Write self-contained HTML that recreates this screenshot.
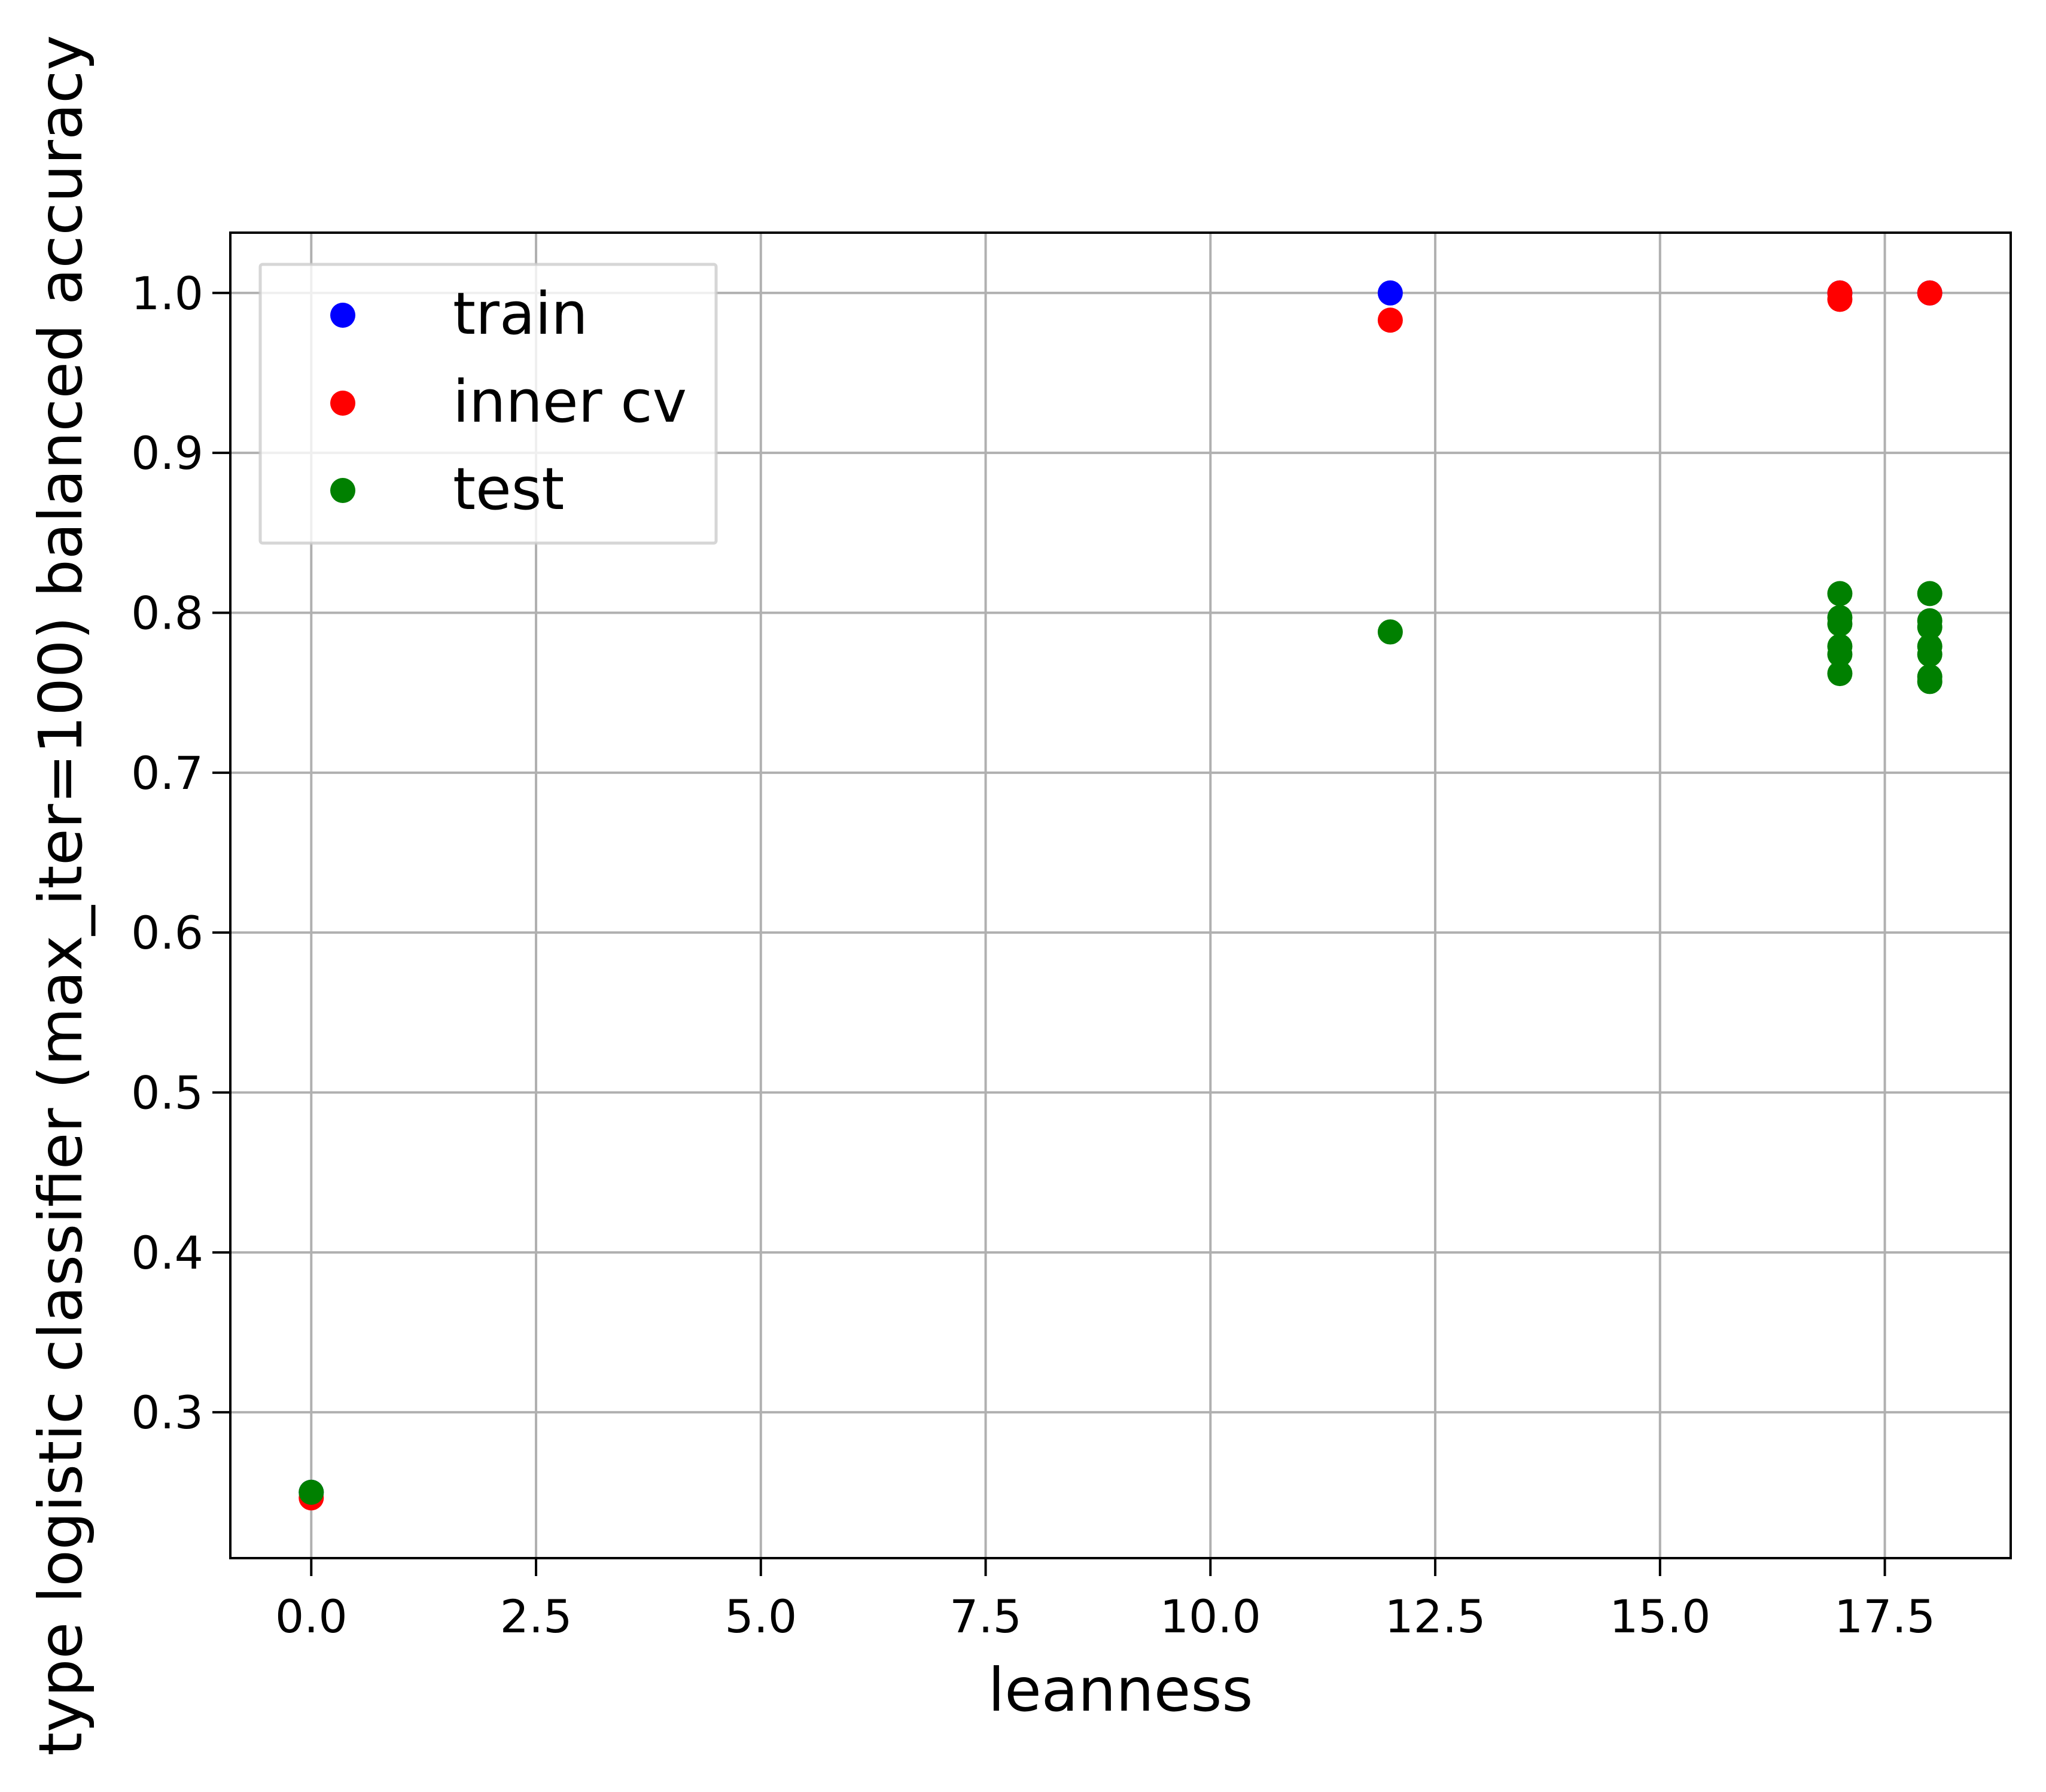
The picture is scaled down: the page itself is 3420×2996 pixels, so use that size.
<!DOCTYPE html>
<html><head><meta charset="utf-8"><style>
html,body{margin:0;padding:0;background:#fff}
svg{display:block}
text{font-family:"DejaVu Sans","Liberation Sans",sans-serif;fill:#000}
</style></head><body>
<svg id="chart" width="3420" height="2996" viewBox="0 0 3420 2996" xmlns="http://www.w3.org/2000/svg">
<rect width="3420" height="2996" fill="#fff"/>
<g id="grid"></g>
<g id="points"></g>
<rect x="385" y="389" width="2976" height="2216" fill="none" stroke="#000" stroke-width="4"/>
<g id="ticks"></g>
<text x="1873" y="2860" font-size="100" text-anchor="middle">leanness</text>
<text transform="translate(136,1497) rotate(-90)" font-size="100" text-anchor="middle">type logistic classifier (max_iter=100) balanced accuracy</text>
<g>
<rect x="435" y="442" width="762" height="466" fill="#fff" fill-opacity="0.8" stroke="#ccc" stroke-opacity="0.8" stroke-width="5" rx="4"/>
<circle cx="573" cy="527" r="21" fill="#0000ff"/>
<text x="757" y="558" font-size="97">train</text>
<circle cx="573" cy="674" r="21" fill="#ff0000"/>
<text x="757" y="705" font-size="97">inner cv</text>
<circle cx="573" cy="820" r="21" fill="#008000"/>
<text x="757" y="851" font-size="97">test</text>
</g>
</svg>
<script>
const xTicks = [0, 2.5, 5, 7.5, 10, 12.5, 15, 17.5];
const xTickLabels = ["0.0","2.5","5.0","7.5","10.0","12.5","15.0","17.5"];
const yTicks = [0.3,0.4,0.5,0.6,0.7,0.8,0.9,1.0];
const yTickLabels = ["0.3","0.4","0.5","0.6","0.7","0.8","0.9","1.0"];
const trainX = [0, 12, 17, 18];
const trainY = [0.25, 1.0, 1.0, 1.0];
const innerX = [0, 12, 17, 17, 18];
const innerY = [0.2465, 0.983, 1.0, 0.996, 1.0];
const testX = [0, 12, 17, 17, 17, 17, 17, 17, 18, 18, 18, 18, 18, 18, 18];
const testY = [0.25, 0.788, 0.812, 0.797, 0.793, 0.779, 0.774, 0.762, 0.812, 0.795, 0.791, 0.779, 0.774, 0.760, 0.757];

const L=385,R=3361,T=389,B=2605;
const xMin=-0.9,xMax=18.9,yMin=0.2088,yMax=1.0377;
const sx=v=>L+(v-xMin)/(xMax-xMin)*(R-L);
const sy=v=>B-(v-yMin)/(yMax-yMin)*(B-T);
const NS="http://www.w3.org/2000/svg";
function mk(tag,attrs,parent){const e=document.createElementNS(NS,tag);for(const k in attrs)e.setAttribute(k,attrs[k]);parent.appendChild(e);return e;}
const grid=document.getElementById('grid'),ticks=document.getElementById('ticks'),pts=document.getElementById('points');
xTicks.forEach((v,i)=>{
  const x=sx(v);
  const g=mk('line',{x1:x,x2:x,y1:T,y2:B,stroke:'#b0b0b0','stroke-width':4},grid);
  
  
  const t=mk('line',{x1:x,x2:x,y1:B,y2:B+30,stroke:'#000','stroke-width':4},ticks);
  
  
  const l=mk('text',{x:x,y:B+124,'font-size':76,'text-anchor':'middle'},ticks);
  l.textContent=xTickLabels[i];
  
  
});
yTicks.forEach((v,i)=>{
  const y=sy(v);
  const g=mk('line',{x1:L,x2:R,y1:y,y2:y,stroke:'#b0b0b0','stroke-width':4},grid);
  
  
  const t=mk('line',{x1:L-30,x2:L,y1:y,y2:y,stroke:'#000','stroke-width':4},ticks);
  
  
  const l=mk('text',{x:L-45,y:y+27,'font-size':76,'text-anchor':'end'},ticks);
  l.textContent=yTickLabels[i];
  
  
});
function series(xs,ys,color,name){
  xs.forEach((xv,i)=>{
    const c=mk('circle',{cx:sx(xv),cy:sy(ys[i]),r:21,fill:color},pts);
    
    
  });
}
series(trainX,trainY,'#0000ff','train-point');
series(innerX,innerY,'#ff0000','inner-cv-point');
series(testX,testY,'#008000','test-point');
</script>
</body></html>
